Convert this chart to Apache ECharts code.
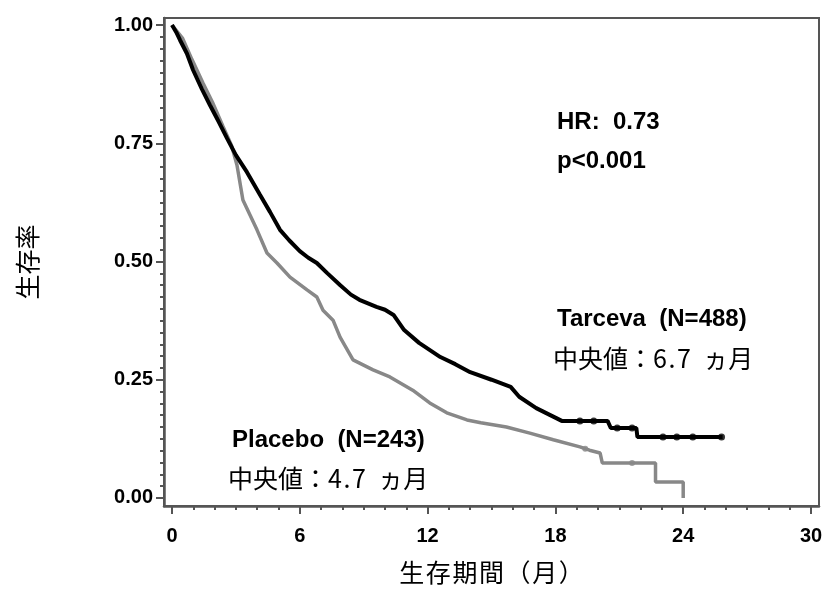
<!DOCTYPE html>
<html>
<head>
<meta charset="utf-8">
<script src="https://cdn.jsdelivr.net/npm/echarts@6/dist/echarts.min.js"></script>
<style>
  html, body { margin: 0; padding: 0; background: #fff; }
  #main { width: 826px; height: 590px; }
</style>
</head>
<body>
<div id="main"></div>
<script>
// 生存曲線 (Kaplan-Meier) — 値は図から読み取り
var tarcevaMonths = [0, 0.2, 0.38, 0.7, 0.99, 1.4, 1.78, 2.2, 2.58, 3.0, 3.52, 4.13, 4.6, 5.07, 5.5, 6.0, 6.4, 6.8, 7.3, 7.9, 8.4, 8.8, 9.6, 10.0, 10.4, 10.9, 11.6, 12.6, 13.3, 14.0, 15.0, 15.9, 16.3, 17.1, 17.9, 18.3, 20.45, 20.6, 21.8, 21.85, 25.85];
var tarcevaSurv   = [1.0, 0.985, 0.968, 0.94, 0.905, 0.865, 0.831, 0.795, 0.761, 0.725, 0.689, 0.641, 0.605, 0.567, 0.545, 0.522, 0.508, 0.497, 0.475, 0.450, 0.43, 0.419, 0.404, 0.398, 0.387, 0.355, 0.328, 0.298, 0.283, 0.266, 0.25, 0.235, 0.214, 0.19, 0.172, 0.163, 0.163, 0.148, 0.148, 0.129, 0.129];

var placeboMonths = [0, 0.5, 0.94, 1.46, 1.9, 2.39, 2.8, 3.05, 3.33, 3.99, 4.46, 4.93, 5.54, 6.34, 6.8, 7.09, 7.56, 7.89, 8.5, 9.44, 10.23, 11.3, 12.1, 12.9, 13.85, 14.5, 15.7, 16.8, 17.9, 19.15, 19.6, 20.1, 20.2, 22.7, 22.7, 24.0, 24.0];
var placeboSurv   = [1.0, 0.972, 0.927, 0.877, 0.837, 0.786, 0.745, 0.704, 0.63, 0.567, 0.518, 0.497, 0.467, 0.44, 0.425, 0.397, 0.376, 0.340, 0.292, 0.271, 0.256, 0.228, 0.201, 0.18, 0.165, 0.159, 0.15, 0.137, 0.123, 0.108, 0.101, 0.095, 0.074, 0.074, 0.034, 0.034, 0.0];

// 打ち切り
var tarcevaCensorMonths = [19.15, 19.8, 20.9, 21.6, 23.05, 23.7, 24.45, 25.8];
var tarcevaCensorSurv   = [0.163, 0.163, 0.148, 0.148, 0.129, 0.129, 0.129, 0.129];
var placeboCensorMonths = [19.4, 21.6];
var placeboCensorSurv   = [0.104, 0.074];

var xTicks = [0, 6, 12, 18, 24, 30];
var yTicks = [0, 0.25, 0.5, 0.75, 1.0];

var xMinor = [];
for (var i = 0; i <= 30; i++) xMinor.push(i);
var yMinor = [];
for (var j = 0; j <= 40; j++) yMinor.push(j * 0.025);

function pairs(xs, ys) {
    return xs.map(function (x, k) { return [x, ys[k]]; });
}

var latin = 'Liberation Sans';
var cjk = 'Noto Sans CJK JP';
var axisColor = '#555';

var myChart = echarts.init(document.getElementById('main'));

var option = {
    animation: false,
    backgroundColor: '#fff',
    grid: {
        left: 164, right: 7, top: 18, bottom: 84,
        show: true, borderColor: axisColor, borderWidth: 2
    },
    xAxis: [{
        type: 'value',
        min: -0.375, max: 30.375,
        name: '生\u200a存\u200a期\u200a間\u200a（\u200a月\u200a）',
        nameLocation: 'middle',
        nameGap: 54,
        nameTextStyle: { fontFamily: cjk, fontSize: 25, color: '#000' },
        axisLine: { show: true, onZero: false, lineStyle: { color: axisColor, width: 2.5 } },
        axisTick: { show: true, inside: false, length: 8, customValues: xTicks, lineStyle: { color: axisColor, width: 2 } },
        axisLabel: {
            customValues: xTicks, margin: 20,
            fontFamily: latin, fontWeight: 'bold', fontSize: 20, color: '#000'
        },
        splitLine: { show: false }
    }, {
        type: 'value',
        min: -0.375, max: 30.375,
        position: 'bottom',
        axisLine: { show: false, onZero: false },
        axisTick: { show: true, inside: false, length: 4, customValues: xMinor, lineStyle: { color: axisColor, width: 2 } },
        axisLabel: { show: false },
        splitLine: { show: false }
    }],
    yAxis: [{
        type: 'value',
        min: -0.017, max: 1.015,
        name: '生存率',
        nameLocation: 'middle',
        nameGap: 124,
        nameTextStyle: { fontFamily: cjk, fontSize: 25, color: '#000' },
        axisLine: { show: true, onZero: false, lineStyle: { color: axisColor, width: 2.5 } },
        axisTick: { show: true, inside: false, length: 8, customValues: yTicks, lineStyle: { color: axisColor, width: 2 } },
        axisLabel: {
            customValues: yTicks, margin: 11,
            formatter: function (v) { return v.toFixed(2); },
            fontFamily: latin, fontWeight: 'bold', fontSize: 20, color: '#000'
        },
        splitLine: { show: false }
    }, {
        type: 'value',
        min: -0.017, max: 1.015,
        position: 'left',
        axisLine: { show: false, onZero: false },
        axisTick: { show: true, inside: false, length: 4, customValues: yMinor, lineStyle: { color: axisColor, width: 2 } },
        axisLabel: { show: false },
        splitLine: { show: false }
    }],
    series: [{
        name: 'Placebo',
        type: 'line',
        data: pairs(placeboMonths, placeboSurv),
        showSymbol: false,
        lineStyle: { color: '#888', width: 3.5 },
        z: 2
    }, {
        name: 'Tarceva',
        type: 'line',
        data: pairs(tarcevaMonths, tarcevaSurv),
        showSymbol: false,
        lineStyle: { color: '#000', width: 4 },
        z: 3
    }, {
        type: 'scatter',
        data: pairs(placeboCensorMonths, placeboCensorSurv),
        symbol: 'circle', symbolSize: 6,
        itemStyle: { color: '#888' },
        z: 2
    }, {
        type: 'scatter',
        data: pairs(tarcevaCensorMonths, tarcevaCensorSurv),
        symbol: 'circle', symbolSize: 7,
        itemStyle: { color: '#000' },
        z: 4
    }],
    graphic: [
        { type: 'text', left: 557, top: 110, style: { text: 'HR:  0.73', font: 'bold 24px ' + latin, fill: '#000' } },
        { type: 'text', left: 557, top: 149, style: { text: 'p<0.001', font: 'bold 24px ' + latin, fill: '#000' } },
        { type: 'text', left: 557, top: 307, style: { text: 'Tarceva  (N=488)', font: 'bold 24px ' + latin, fill: '#000' } },
        { type: 'text', left: 553, top: 346, style: { text: '中央値：6\u200a.\u200a7\u2002ヵ月', font: '25px "' + cjk + '"', fill: '#000' } },
        { type: 'text', left: 232, top: 428, style: { text: 'Placebo  (N=243)', font: 'bold 24px ' + latin, fill: '#000' } },
        { type: 'text', left: 228, top: 466, style: { text: '中央値：4\u200a.\u200a7\u2002ヵ月', font: '25px "' + cjk + '"', fill: '#000' } }
    ]
};

myChart.setOption(option);
</script>
</body>
</html>
